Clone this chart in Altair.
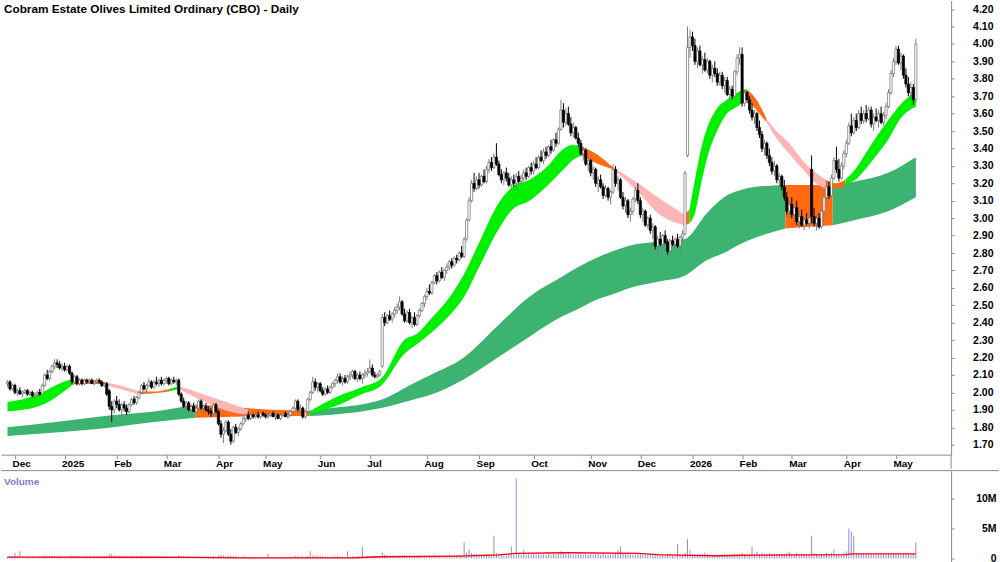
import json
import altair as alt
import pandas as pd

TITLE = "Cobram Estate Olives Limited Ordinary (CBO) - Daily"

# Daily bars: (open, high, low, close) in cents, volume in thousands of shares
NOV_2024 = [(205,207,203,206,300),(206,207,201,202,350),(202,205,201,204,280)]
DEC_2024 = [(204,205,199,200,900),(200,202,198,201,400),(201,203,199,199,1200),(199,201,197,200,350),
            (200,202,199,201,300),(201,202,198,199,250),(199,201,198,200,300),(200,201,197,198,280),
            (198,200,197,199,250),(199,201,198,200,260),(200,202,198,199,300),(199,205,199,204,450),
            (204,211,203,210,500),(210,213,207,208,400),(208,213,207,212,380),(212,216,211,215,420),
            (215,219,213,217,350),(217,219,214,216,300),(216,218,213,214,250),(214,217,212,215,280)]
JAN_2025 = [(215,217,212,213,300),(213,216,212,215,280),(215,216,210,211,350),(211,212,205,206,500),
            (206,210,205,209,350),(209,210,204,205,400),(205,208,204,207,300),(207,208,204,205,280),
            (205,208,204,207,250),(207,208,205,206,220),(206,208,205,207,250),(207,208,205,205,230),
            (205,207,204,206,200),(206,208,205,207,250),(207,208,205,206,220),(206,207,203,204,300),
            (204,206,203,205,280),(205,206,198,199,450),(201,202,190,192,700),(192,195,183,190,800),
            (190,196,188,195,500)]
FEB_2025 = [(195,198,191,193,400),(193,196,189,190,450),(190,194,186,193,350),(193,195,189,191,300),
            (191,193,187,189,350),(189,194,188,193,300),(193,197,192,196,280),(196,198,193,194,250),
            (194,198,193,197,300),(197,201,196,200,350),(200,205,199,204,400),(204,206,201,202,300),
            (202,205,200,204,280),(204,208,203,206,350),(206,207,202,203,300),(203,207,202,206,280),
            (206,209,204,205,300),(205,208,203,207,250),(207,209,204,205,280),(205,208,204,207,260)]
MAR_2025 = [(207,209,205,208,300),(208,209,204,205,280),(205,208,204,207,250),(207,209,205,206,300),
            (206,208,204,207,250),(207,208,198,199,500),(199,200,194,195,450),(195,197,191,192,400),
            (192,195,190,194,300),(194,195,189,190,350),(190,193,188,192,300),(192,194,189,189,280),
            (189,192,188,191,250),(191,196,190,195,300),(195,196,190,191,280),(191,193,188,192,250),
            (192,194,189,190,300),(190,192,187,189,280),(189,191,186,188,300),(188,194,187,193,350),
            (193,194,188,189,300)]
APR_2025 = [(189,190,181,182,450),(182,184,174,176,600),(176,180,171,178,500),(178,184,177,183,400),
            (183,184,175,176,450),(176,179,170,172,500),(172,181,171,180,400),(180,182,176,177,350),
            (177,180,175,179,300),(179,183,178,182,300),(182,186,181,185,350),(185,188,183,187,300),
            (187,189,184,185,250),(185,188,184,187,250),(187,188,185,186,200),(186,188,185,187,220),
            (187,189,185,186,200),(186,188,185,188,220),(188,189,186,187,200)]
MAY_2025 = [(187,188,185,186,200),(186,188,185,187,800),(187,189,186,188,200),(188,189,186,186,220),
            (186,188,184,187,200),(187,188,185,185,180),(185,188,184,187,200),(187,189,186,188,250),
            (188,189,186,186,220),(186,188,185,187,200),(187,190,186,189,250),(189,192,188,191,300),
            (191,196,190,195,400),(195,196,189,190,350),(190,193,188,191,300),(191,192,185,186,350),
            (186,190,185,189,300),(189,197,188,196,400),(196,201,195,200,1200),(200,209,199,206,500),
            (206,208,201,203,500),(203,206,200,205,400)]
JUN_2025 = [(205,206,200,201,400),(201,203,198,199,350),(199,203,198,202,300),(202,204,199,200,300),
            (200,204,199,203,280),(203,206,202,205,300),(205,208,203,207,350),(207,211,205,209,400),
            (209,211,205,206,300),(206,209,204,208,280),(208,210,205,206,250),(206,210,205,209,1200),
            (209,212,207,210,300),(210,213,208,212,350),(212,213,207,208,300),(208,211,206,210,280),
            (210,212,207,208,300),(208,211,205,210,2000),(210,213,208,211,300),(211,214,209,212,350)]
JUL_2025 = [(212,219,211,214,400),(214,216,209,210,350),(210,212,208,209,300),(209,211,208,210,300),
            (210,213,209,212,400),(215,245,214,243,1000),(243,246,238,240,600),(240,245,239,244,500),
            (244,247,241,242,400),(242,246,240,245,350),(245,249,243,247,400),(247,251,245,249,350),
            (249,255,247,252,450),(252,253,244,245,500),(245,248,240,241,450),(241,247,240,246,350),
            (246,248,239,240,400),(240,244,237,243,350),(243,246,238,239,300),(239,245,238,244,300),
            (244,248,243,247,350),(247,252,246,251,400),(251,256,249,255,450)]
AUG_2025 = [(255,260,253,258,500),(258,262,256,257,400),(257,264,256,263,450),(263,268,262,267,500),
            (267,269,262,264,400),(264,270,263,269,450),(269,272,265,266,400),(266,271,264,270,350),
            (270,274,268,272,400),(272,276,270,275,450),(275,277,271,273,400),(273,278,272,277,450),
            (277,279,274,276,400),(276,281,275,280,500),(280,284,277,278,450),(278,289,277,288,2700),
            (288,300,287,299,1000),(299,312,298,310,1500),(310,322,309,320,900),(320,326,315,317,800),
            (317,324,316,322,700)]
SEP_2025 = [(322,326,317,319,700),(319,325,318,324,600),(324,328,320,321,600),(321,330,320,328,700),
            (328,334,326,332,700),(332,335,327,329,600),(329,337,328,335,3800),(335,343,330,331,900),
            (331,333,324,325,700),(325,328,320,322,600),(322,327,319,326,500),(326,329,321,323,500),
            (323,326,318,319,600),(319,324,317,322,2000),(322,325,318,320,600),(320,326,316,324,13300),
            (324,327,320,321,800),(321,325,319,323,600),(323,328,321,326,1400),(326,329,322,324,600),
            (324,330,323,329,700),(329,332,325,327,600)]
OCT_2025 = [(327,333,325,331,700),(331,335,328,329,600),(329,336,328,335,700),(335,339,332,333,600),
            (333,340,331,338,700),(338,341,334,336,600),(336,342,335,341,700),(341,345,337,339,600),
            (339,346,338,345,800),(345,349,341,343,700),(343,352,342,351,900),(351,368,350,362,1200),
            (362,366,352,355,900),(355,363,353,360,800),(360,364,353,354,800),(354,358,347,349,700),
            (349,355,346,352,600),(352,353,345,346,700),(346,349,341,343,700),(343,345,336,337,700),
            (337,341,333,339,600),(339,340,330,331,700),(331,335,327,333,600)]
NOV_2025 = [(333,334,324,326,700),(326,330,322,328,600),(328,329,318,320,800),(320,324,315,322,700),
            (322,325,317,318,600),(318,320,311,313,700),(313,319,312,317,600),(317,318,310,312,600),
            (312,316,308,315,600),(315,331,314,328,700),(328,330,318,320,800),(320,324,316,322,1400),
            (322,323,311,312,2000),(312,315,305,307,800),(307,312,303,310,700),(310,311,300,302,700),
            (302,306,298,304,600),(304,312,302,311,600),(311,318,309,316,600),(316,320,308,310,700)]
DEC_2025 = [(310,312,300,302,700),(302,306,298,304,600),(304,305,295,296,700),(296,301,294,300,600),
            (300,302,291,293,700),(293,297,288,295,600),(295,296,282,284,800),(284,290,278,288,700),
            (288,292,284,285,600),(285,291,283,290,600),(290,293,285,286,500),(286,288,279,281,700),
            (281,288,280,287,600),(287,290,284,285,500),(285,289,282,288,500),(288,291,283,284,2400),
            (284,290,280,289,600),(289,293,286,291,600),(291,327,290,326,900),(336,410,335,398,3200),
            (398,408,392,404,1400)]
JAN_2026 = [(404,407,396,399,800),(399,403,388,390,700),(390,398,386,396,600),(396,399,387,388,700),
            (388,393,383,391,600),(391,395,384,385,1000),(385,392,383,390,700),(390,391,380,382,600),
            (382,388,378,386,500),(386,390,381,383,500),(383,386,376,378,600),(378,384,376,382,500),
            (382,384,374,376,600),(376,381,372,379,500),(379,381,370,371,600),(371,376,368,374,500),
            (374,376,368,370,600),(370,385,369,384,700),(384,394,382,392,800),(392,398,388,394,700)]
FEB_2026 = [(394,398,364,366,900),(366,374,364,372,700),(372,373,366,368,600),(368,370,360,362,700),
            (362,366,356,358,2000),(358,362,354,360,800),(360,361,350,352,1100),(352,356,346,348,800),
            (348,350,338,340,900),(340,345,336,343,700),(343,344,334,336,800),(336,340,330,332,900),
            (332,335,325,327,800),(327,333,324,330,700),(330,331,320,322,800),(322,326,318,324,700),
            (324,325,316,318,800),(318,322,310,312,800),(312,315,302,304,900),(304,310,300,308,1100)]
MAR_2026 = [(308,312,300,302,800),(302,308,298,306,700),(306,310,296,298,900),(298,304,294,301,700),
            (301,305,295,296,800),(296,300,293,299,700),(299,303,296,297,700),(297,302,294,300,700),
            (328,336,297,301,3800),(301,306,295,297,900),(297,302,293,300,800),(300,303,294,295,700),
            (295,305,294,304,800),(304,313,303,312,800),(312,320,310,318,900),(318,321,311,313,800),
            (313,325,312,323,900),(323,335,322,333,1500),(333,341,326,328,800),(328,334,321,323,800),
            (323,332,322,330,800),(330,339,328,337,1000)]
APR_2026 = [(337,345,335,343,1200),(343,355,342,353,5000),(353,360,347,349,4500),(349,358,348,356,3700),
            (356,360,350,352,900),(352,362,351,360,800),(360,364,354,356,800),(356,362,354,360,700),
            (360,365,355,357,700),(357,364,356,362,600),(362,364,352,354,700),(354,360,350,358,600),
            (358,363,355,356,600),(356,362,352,360,600),(360,364,354,355,700),(355,361,353,359,600),
            (359,366,357,364,700),(364,374,363,372,800),(372,385,371,383,900),(383,392,381,390,800)]
MAY_2026 = [(390,399,388,397,800),(397,399,388,389,700),(389,395,385,393,600),(393,394,380,382,800),
            (382,386,375,377,700),(377,381,370,372,700),(372,378,368,375,600),(375,377,365,368,700),
            (368,403,366,400,2700)]

MONTHS = [(None, NOV_2024), ("Dec", DEC_2024), ("2025", JAN_2025), ("Feb", FEB_2025), ("Mar", MAR_2025),
          ("Apr", APR_2025), ("May", MAY_2025), ("Jun", JUN_2025), ("Jul", JUL_2025), ("Aug", AUG_2025),
          ("Sep", SEP_2025), ("Oct", OCT_2025), ("Nov", NOV_2025), ("Dec", DEC_2025), ("2026", JAN_2026),
          ("Feb", FEB_2026), ("Mar", MAR_2026), ("Apr", APR_2026), ("May", MAY_2026)]

# Ribbon bands: (bar index, upper price, lower price)
SHORT_BAND = [
    ("green", [(0, 1.945, 1.89), (12.5, 1.99, 1.92), (19.3, 2.04, 1.97), (24.5, 2.07, 2.025), (26.5, 2.075, 2.045)]),
    ("orange", [(26.5, 2.075, 2.045), (33.2, 2.072, 2.05), (39.2, 2.058, 2.045)]),
    ("pink", [(39.2, 2.058, 2.045), (46.4, 2.035, 2.015), (53.1, 2.005, 1.99)]),
    ("orange", [(53.1, 2.005, 1.99), (59.1, 2.005, 1.995), (65.1, 2.02, 2.005)]),
    ("green", [(65.1, 2.02, 2.005), (69.0, 2.035, 2.02)]),
    ("pink", [(69.0, 2.035, 2.02), (79.0, 1.99, 1.95), (86.9, 1.95, 1.90), (96.9, 1.90, 1.87)]),
    ("orange", [(96.9, 1.90, 1.87), (108.8, 1.89, 1.87), (121.6, 1.89, 1.875)]),
    ("green", [(121.6, 1.89, 1.875), (131.9, 1.97, 1.92), (142.7, 2.03, 1.99), (150.6, 2.08, 2.04),
               (159.8, 2.30, 2.22), (165.3, 2.34, 2.28), (170.5, 2.42, 2.34), (177.3, 2.53, 2.43),
               (183.6, 2.67, 2.54), (190.4, 2.87, 2.73), (197.2, 3.07, 2.92), (203.5, 3.18, 3.05),
               (210.3, 3.22, 3.10), (217.1, 3.29, 3.18), (223.4, 3.39, 3.27), (227.4, 3.42, 3.33),
               (231.4, 3.41, 3.36)]),
    ("orange", [(231.4, 3.41, 3.36), (238.2, 3.36, 3.31), (244.1, 3.29, 3.28)]),
    ("pink", [(244.1, 3.29, 3.28), (254.1, 3.20, 3.15), (262.0, 3.12, 3.03), (272.8, 3.02, 2.96)]),
    ("orange", [(272.8, 3.02, 2.96), (274.8, 3.05, 2.97)]),
    ("green", [(274.8, 3.05, 2.97), (277.0, 3.22, 3.03), (279.5, 3.40, 3.20), (282.0, 3.52, 3.35),
               (285.9, 3.63, 3.50), (289.9, 3.68, 3.60), (293.9, 3.72, 3.64), (297.9, 3.74, 3.68)]),
    ("orange", [(297.9, 3.74, 3.68), (301.8, 3.68, 3.62), (305.8, 3.57, 3.55)]),
    ("pink", [(305.8, 3.57, 3.55), (309.8, 3.50, 3.46), (315.0, 3.43, 3.37), (320.5, 3.33, 3.28),
              (325.7, 3.26, 3.20), (329.7, 3.22, 3.17)]),
    ("orange", [(329.7, 3.22, 3.17), (333.7, 3.20, 3.17), (337.6, 3.22, 3.19)]),
    ("green", [(337.6, 3.22, 3.19), (341.6, 3.28, 3.22), (348.4, 3.43, 3.33), (354.8, 3.56, 3.45),
               (360.3, 3.66, 3.58), (366, 3.73, 3.64)]),
]
LONG_BAND = [
    ("dgreen", [(0, 1.80, 1.75), (19.3, 1.83, 1.77), (39.2, 1.865, 1.795), (59.1, 1.89, 1.83), (75.8, 1.93, 1.855)]),
    ("orange", [(75.8, 1.93, 1.855), (90.9, 1.915, 1.86), (106.8, 1.90, 1.865), (121.6, 1.895, 1.865)]),
    ("dgreen", [(121.6, 1.895, 1.865), (130.7, 1.91, 1.872), (150.6, 1.958, 1.91), (163.7, 2.053, 1.96),
                (170.5, 2.10, 1.986), (183.6, 2.197, 2.072), (197.2, 2.378, 2.197), (210.3, 2.549, 2.32),
                (223.4, 2.664, 2.435), (230.2, 2.721, 2.48), (237.0, 2.77, 2.53), (243.3, 2.807, 2.56),
                (250.1, 2.84, 2.597), (262.0, 2.864, 2.635), (272.8, 2.88, 2.67), (281.9, 3.03, 2.76),
                (288.7, 3.12, 2.80), (295.1, 3.16, 2.85), (301.8, 3.18, 2.89), (313.4, 3.19, 2.94)]),
    ("orange", [(313.4, 3.19, 2.94), (322.9, 3.19, 2.95), (332.5, 3.19, 2.96)]),
    ("dgreen", [(332.5, 3.19, 2.96), (341.6, 3.21, 2.99), (354.8, 3.26, 3.04), (366, 3.35, 3.12)]),
]

# Volume moving average (bar index, thousands of shares)
VOL_MA = [(0, 220), (60, 200), (74, 170), (95, 100), (140, 120), (150, 280), (182, 400), (198, 600),
          (205, 850), (225, 950), (254, 850), (262, 650), (275, 500), (286, 450), (300, 550), (323, 600),
          (338, 650), (340, 780), (366, 780)]

PRICE_TICKS = [1.7, 1.8, 1.9, 2.0, 2.1, 2.2, 2.3, 2.4, 2.5, 2.6, 2.7, 2.8, 2.9, 3.0, 3.1, 3.2, 3.3,
               3.4, 3.5, 3.6, 3.7, 3.8, 3.9, 4.0, 4.1, 4.2]
VOLUME_TICKS = [0, 5000000, 10000000]

BAND_COLOURS = {"green": "#00f000", "dgreen": "#3cb371", "orange": "#ff6a13", "pink": "#ffb5b5"}
FONT = "Liberation Sans"
NARROW = "Liberation Sans Narrow, Liberation Sans"
GREY = "#8a8a8a"

# ---- build tables ----
rows, tick_idx, tick_lab = [], [], []
i = 0
for lab, bars in MONTHS:
    if lab is not None:
        tick_idx.append(i)
        tick_lab.append(lab)
    for (o, h, l, c, v) in bars:
        rows.append(dict(idx=i, open=o / 100, high=h / 100, low=l / 100, close=c / 100,
                         vol=v * 1000, base=0, dir="up" if c >= o else "down"))
        i += 1
bars_df = pd.DataFrame(rows)


def band_rows(segments, prefix):
    out = []
    for k, (kind, pts) in enumerate(segments):
        for (x, t, b) in pts:
            out.append(dict(seg=f"{prefix}{k}", idx=x, top=t, bot=b, col=BAND_COLOURS[kind]))
    return out


long_df = pd.DataFrame(band_rows(LONG_BAND, "L"))
short_df = pd.DataFrame(band_rows(SHORT_BAND, "S"))
ma_df = pd.DataFrame([dict(idx=a, ma=b * 1000) for a, b in VOL_MA])

XS = alt.Scale(domain=[-0.6, 378.2], nice=False, zero=False)
YS = alt.Scale(domain=[1.6428, 4.2487], nice=False, zero=False)
VS = alt.Scale(domain=[-833333, 14666667], nice=False, zero=False)

label_expr = f"{json.dumps(tick_lab)}[indexof({json.dumps(tick_idx)}, datum.value)]"
X_AXIS = alt.Axis(values=tick_idx, labelExpr=label_expr, orient="bottom", title=None, grid=False,
                  domainColor=GREY, tickColor=GREY, tickSize=4, labelAlign="left", labelOffset=-3,
                  labelBaseline="alphabetic", labelPadding=8, labelFont=FONT, labelFontWeight="bold",
                  labelFontSize=10, labelColor="#000000", labelFlush=False, labelOverlap=False,
                  labelBound=False, minExtent=14, maxExtent=14)
Y_AXIS = alt.Axis(values=PRICE_TICKS, format=".2f", orient="right", title=None, grid=False,
                  domainColor=GREY, tickColor=GREY, tickSize=3, labelAlign="right", labelBaseline="middle",
                  labelPadding=39, labelFont=NARROW, labelFontWeight="bold", labelFontSize=10.5,
                  labelColor="#000000", labelOverlap=False, labelFlush=False)
V_AXIS = alt.Axis(values=VOLUME_TICKS, orient="right", title=None, grid=False,
                  labelExpr="datum.value == 0 ? '0' : format(datum.value / 1000000, 'd') + 'M'",
                  domainColor=GREY, tickColor=GREY, tickSize=3, labelAlign="right", labelBaseline="middle",
                  labelPadding=42, labelFont=NARROW, labelFontWeight="bold", labelFontSize=10.5,
                  labelColor="#000000", labelOverlap=False, labelFlush=False)


def X():
    return alt.X("idx:Q", scale=XS, axis=X_AXIS)


def band(df):
    return alt.Chart(df).mark_area(interpolate="monotone").encode(
        x=X(), y=alt.Y("top:Q", scale=YS, axis=Y_AXIS), y2="bot:Q",
        color=alt.Color("col:N", scale=None), detail="seg:N")


up = "datum.dir == 'up'"
down = "datum.dir == 'down'"
base = alt.Chart(bars_df)
wick_up = base.transform_filter(up).mark_rule(color="#7a7a7a", strokeWidth=1).encode(
    x=X(), y=alt.Y("low:Q", scale=YS, axis=Y_AXIS), y2="high:Q")
wick_dn = base.transform_filter(down).mark_rule(color="#000000", strokeWidth=1).encode(
    x=X(), y=alt.Y("low:Q", scale=YS, axis=Y_AXIS), y2="high:Q")
body_up = base.transform_filter(up).mark_bar(size=2.2, fill="#ffffff", stroke="#6e6e6e", strokeWidth=0.7).encode(
    x=X(), y=alt.Y("open:Q", scale=YS, axis=Y_AXIS), y2="close:Q")
body_dn = base.transform_filter(down).mark_bar(size=2.2, fill="#000000", stroke="#000000", strokeWidth=0.7).encode(
    x=X(), y=alt.Y("open:Q", scale=YS, axis=Y_AXIS), y2="close:Q")

title = alt.Chart(pd.DataFrame({"t": [TITLE]})).mark_text(
    align="left", baseline="alphabetic", font=NARROW, fontSize=11.8, fontWeight="bold", color="#000000"
).encode(x=alt.value(3), y=alt.value(12.5), text="t:N")
connector = alt.Chart(pd.DataFrame({"a": [0]})).mark_rule(color=GREY).encode(
    x=alt.value(952), y=alt.value(455), y2=alt.value(469))

price = alt.layer(band(long_df), band(short_df), wick_up, wick_dn, body_up, body_dn, title, connector
                  ).properties(width=952, height=455)

vol_bars = alt.Chart(bars_df).mark_bar(size=1, color="#8c8cdc").encode(
    x=alt.X("idx:Q", scale=XS, axis=None), y=alt.Y("vol:Q", scale=VS, axis=V_AXIS), y2="base:Q")
vol_ma = alt.Chart(ma_df).mark_line(color="#ff0000", strokeWidth=1.3).encode(
    x=alt.X("idx:Q", scale=XS, axis=None), y=alt.Y("ma:Q", scale=VS, axis=V_AXIS))
vol_label = alt.Chart(pd.DataFrame({"t": ["Volume"]})).mark_text(
    align="left", baseline="alphabetic", font=FONT, fontSize=10, fontWeight="bold", color="#8080c0"
).encode(x=alt.value(3), y=alt.value(14), text="t:N")
top_line = alt.Chart(pd.DataFrame({"a": [0]})).mark_rule(color=GREY).encode(
    x=alt.value(0), x2=alt.value(1000), y=alt.value(0))

volume = alt.layer(vol_bars, vol_ma, vol_label, top_line).properties(width=952, height=93)

chart = alt.vconcat(price, volume, spacing=0).properties(
    padding=0, background="#ffffff").configure_view(stroke=None)

chart.save("out.html", embed_options={"renderer": "svg", "actions": False})
